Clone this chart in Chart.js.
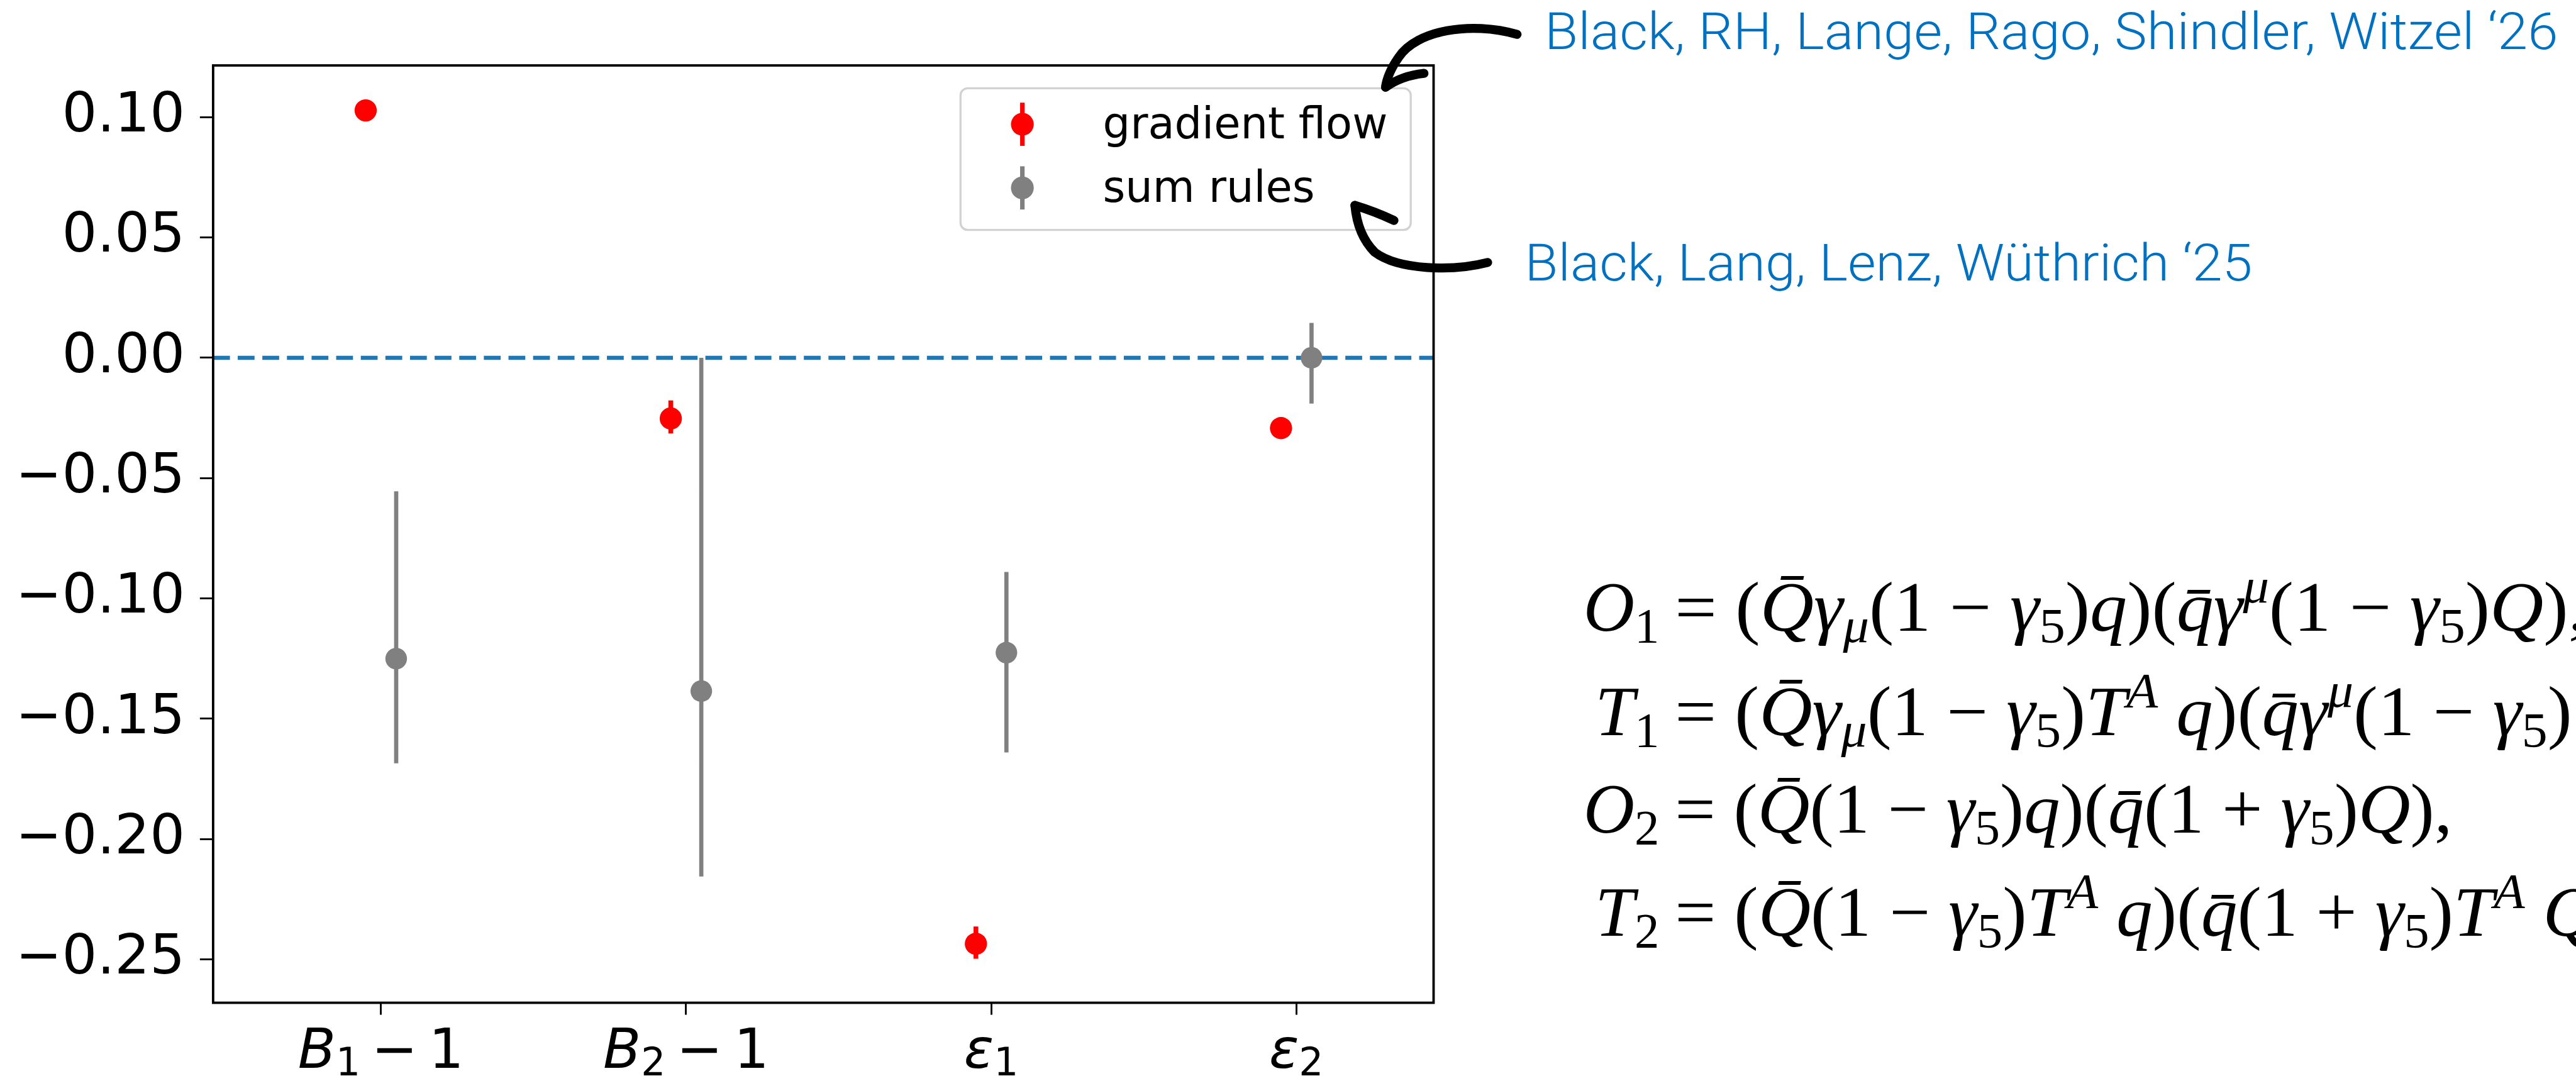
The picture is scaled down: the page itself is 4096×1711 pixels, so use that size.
<!DOCTYPE html>
<html>
<head>
<meta charset="utf-8">
<title>B parameters</title>
<script src="https://cdn.jsdelivr.net/npm/chart.js@4.4.1/dist/chart.umd.min.js"></script>
<style>
  html, body { margin: 0; padding: 0; background: #fff; overflow: hidden; }
  #wrap { position: relative; width: 4096px; height: 1711px; }
  #chart { position: absolute; left: 0; top: 0; }
  #notes { position: absolute; left: 0; top: 0; }
</style>
</head>
<body>
<div id="wrap">
  <canvas id="chart" width="4096" height="1711"></canvas>
  <svg id="notes" xmlns="http://www.w3.org/2000/svg" width="4096" height="1711" viewBox="0 0 4291 1792">
    <g fill="none" stroke="#000" stroke-width="15" stroke-linecap="round" stroke-linejoin="round">
      <path d="M2527,57 C2450,35 2360,50 2330,95 C2316,115 2310,130 2308,145"/>
      <path d="M2308,145 Q2335,126 2372,122"/>
      <path d="M2478,437 C2420,452 2330,450 2290,420 C2270,400 2260,375 2257,342"/>
      <path d="M2257,342 Q2290,352 2322,367"/>
    </g>
    <g id="refs" fill="#0070c0" font-family="Roboto, 'Liberation Sans', sans-serif" font-weight="300" font-size="86"></g>
    <g id="eqs" fill="#000" font-family="'Liberation Serif', 'DejaVu Serif', serif" font-size="118"></g>
  </svg>
</div>
<script>
// everything is laid out in reference pixels and shrunk by S
const S = 4096 / 4291;

const categories = ['B_1 - 1', 'B_2 - 1', 'ε_1', 'ε_2'];
const seriesNames = ['gradient flow', 'sum rules'];
const gradFlow = [0.1028, -0.0252, -0.2435, -0.0292];
const gradFlowUp = [0.002, 0.0075, 0.0072, 0.002];
const gradFlowDown = [0.002, 0.0062, 0.0062, 0.002];
const sumRules = [-0.125, -0.1385, -0.1225, 0.0];
const sumRulesUp = [0.0695, 0.1385, 0.0335, 0.0145];
const sumRulesDown = [0.0435, 0.077, 0.0415, 0.019];
const yTicks = [0.10, 0.05, 0.00, -0.05, -0.10, -0.15, -0.20, -0.25];

const refTexts = ['Black, RH, Lange, Rago, Shindler, Witzel ‘26', 'Black, Lang, Lenz, Wüthrich ‘25'];
const eqLeft = ['O_1', 'T_1', 'O_2', 'T_2'];
const eqRight = [
    '= (Q̄γ_μ(1 − γ_5)q)(q̄γ^μ(1 − γ_5)Q),',
    '= (Q̄γ_μ(1 − γ_5)T^A q)(q̄γ^μ(1 − γ_5)T^A Q),',
    '= (Q̄(1 − γ_5)q)(q̄(1 + γ_5)Q),',
    '= (Q̄(1 − γ_5)T^A q)(q̄(1 + γ_5)T^A Q),'
];

const RED = '#ff0000';
const GREY = '#808080';
const BLUE = '#1f77b4';
const dx = 0.05;

function errSegments(values, up, down, shift) {
    const pts = [];
    values.forEach((v, i) => {
        pts.push({x: i + shift, y: v - down[i]});
        pts.push({x: i + shift, y: v + up[i]});
        pts.push({x: i + shift, y: null});
    });
    return pts;
}

function points(values, shift) {
    return values.map((v, i) => ({x: i + shift, y: v}));
}

function fmt(v) {
    const s = Math.abs(v).toFixed(2);
    return v < -1e-9 ? '\u2212' + s : s;
}

// box round the plot, drawn over the data like matplotlib spines
const frame = {
    id: 'frame',
    afterDatasetsDraw(chart) {
        const {ctx, chartArea: a} = chart;
        ctx.save();
        ctx.strokeStyle = '#000';
        ctx.lineWidth = 4 * S;
        ctx.strokeRect(a.left, a.top, a.right - a.left, a.bottom - a.top);
        ctx.restore();
    }
};

// x labels: italic symbol, small subscript, then the rest upright
const mathLabels = {
    id: 'mathLabels',
    afterDraw(chart) {
        const ctx = chart.ctx;
        const xs = chart.scales.x;
        const fs = 92 * S;
        const base = chart.chartArea.bottom + 108 * S;
        ctx.save();
        ctx.fillStyle = '#000';
        ctx.textBaseline = 'alphabetic';
        ctx.textAlign = 'left';
        categories.forEach((c, i) => {
            const m = c.match(/^(.)_(.)(.*)$/);
            const segs = [
                {t: m[1], f: `italic ${fs}px "DejaVu Sans"`, dy: 0},
                {t: m[2], f: `${fs * 0.7}px "DejaVu Sans"`, dy: 13 * S},
                {t: m[3].replace(' - ', '\u2009\u2212\u2009'), f: `${fs}px "DejaVu Sans"`, dy: 0}
            ];
            let w = 0;
            segs.forEach(s => { ctx.font = s.f; s.w = ctx.measureText(s.t).width; w += s.w; });
            let x = xs.getPixelForValue(i) - w / 2;
            segs.forEach(s => {
                ctx.font = s.f;
                ctx.fillText(s.t, x, base + s.dy);
                x += s.w;
            });
        });
        ctx.restore();
    }
};

// legend box in the upper right corner of the axes
const legendBox = {
    id: 'legendBox',
    afterDraw(chart) {
        const {ctx, chartArea: a} = chart;
        const x0 = a.right - (2388 - 1600) * S;
        const y0 = a.top + (147 - 109) * S;
        const w = 750 * S, h = 236 * S;
        ctx.save();
        ctx.beginPath();
        ctx.roundRect(x0, y0, w, h, 12 * S);
        ctx.fillStyle = 'rgba(255,255,255,0.85)';
        ctx.fill();
        ctx.strokeStyle = '#d2d2d2';
        ctx.lineWidth = 3.5 * S;
        ctx.stroke();
        const items = chart.data.datasets.filter(d => d.legend);
        items.forEach((d, k) => {
            const cy = y0 + (60 + k * 106) * S;
            const mx = x0 + 103 * S;
            ctx.strokeStyle = d.backgroundColor;
            ctx.lineWidth = 7.5 * S;
            ctx.beginPath();
            ctx.moveTo(mx, cy - 36 * S);
            ctx.lineTo(mx, cy + 36 * S);
            ctx.stroke();
            ctx.fillStyle = d.backgroundColor;
            ctx.beginPath();
            ctx.arc(mx, cy, 19 * S, 0, Math.PI * 2);
            ctx.fill();
            ctx.fillStyle = '#000';
            ctx.font = `${72 * S}px "DejaVu Sans"`;
            ctx.textBaseline = 'alphabetic';
            ctx.fillText(d.label, x0 + 237 * S, cy + 23 * S);
        });
        ctx.restore();
    }
};

const chart = new Chart(document.getElementById('chart'), {
    type: 'scatter',
    data: {
        datasets: [
            {
                type: 'line',
                data: [{x: -0.55, y: 0}, {x: 3.45, y: 0}],
                borderColor: BLUE,
                borderWidth: 7 * S,
                borderDash: [28 * S, 13 * S],
                pointRadius: 0,
                order: 10
            },
            {
                type: 'line',
                data: errSegments(gradFlow, gradFlowUp, gradFlowDown, -dx),
                borderColor: RED,
                borderWidth: 8 * S,
                pointRadius: 0,
                spanGaps: false,
                order: 6
            },
            {
                label: seriesNames[0],
                legend: true,
                data: points(gradFlow, -dx),
                backgroundColor: RED,
                borderWidth: 0,
                pointRadius: 18.5 * S,
                order: 5
            },
            {
                type: 'line',
                data: errSegments(sumRules, sumRulesUp, sumRulesDown, dx),
                borderColor: GREY,
                borderWidth: 7 * S,
                pointRadius: 0,
                spanGaps: false,
                order: 4
            },
            {
                label: seriesNames[1],
                legend: true,
                data: points(sumRules, dx),
                backgroundColor: GREY,
                borderWidth: 0,
                pointRadius: 18 * S,
                order: 3
            }
        ]
    },
    options: {
        responsive: false,
        animation: false,
        devicePixelRatio: 1,
        events: [],
        layout: {padding: {left: 0, top: 109 * S, right: (4291 - 2388) * S, bottom: 0}},
        plugins: {legend: {display: false}, tooltip: {enabled: false}},
        scales: {
            x: {
                type: 'linear',
                min: -0.55,
                max: 3.45,
                afterBuildTicks: s => { s.ticks = categories.map((c, i) => ({value: i})); },
                ticks: {display: false},
                grid: {drawOnChartArea: false, tickLength: 20 * S, tickWidth: 3 * S, tickColor: '#000'},
                border: {display: false},
                afterFit: s => { s.height = (1792 - 1670) * S; }
            },
            y: {
                min: -0.268,
                max: 0.1215,
                afterBuildTicks: s => { s.ticks = yTicks.map(v => ({value: v})); },
                ticks: {
                    callback: v => fmt(v),
                    color: '#000',
                    font: {family: 'DejaVu Sans', size: 92 * S},
                    padding: 25 * S
                },
                grid: {drawOnChartArea: false, tickLength: 22 * S, tickWidth: 3 * S, tickColor: '#000'},
                border: {display: false},
                afterFit: s => { s.width = 355 * S; }
            }
        }
    },
    plugins: [frame, mathLabels, legendBox]
});

// --- notes to the right of the plot (svg, reference pixel units) ---
const NS = 'http://www.w3.org/2000/svg';
const refs = document.getElementById('refs');
const refPos = [{x: 2573, y: 81, len: 1688}, {x: 2540, y: 467, len: 1212}];
refTexts.forEach((t, i) => {
    const el = document.createElementNS(NS, 'text');
    el.setAttribute('x', refPos[i].x);
    el.setAttribute('y', refPos[i].y);
    el.setAttribute('textLength', refPos[i].len);
    el.setAttribute('lengthAdjust', 'spacingAndGlyphs');
    el.textContent = t;
    refs.appendChild(el);
});

// split a tex-ish string into runs: _x subscript, ^x superscript, letters italic
function runs(src) {
    const out = [];
    let i = 0;
    while (i < src.length) {
        let ch = src[i], mode = 'n';
        if (ch === '_' || ch === '^') { mode = ch === '_' ? 'sub' : 'sup'; i++; ch = src[i]; }
        let t = ch;
        i++;
        while (src[i] === '\u0304') { t += src[i]; i++; }
        const it = /[A-Za-zα-ω]/.test(ch);
        const last = out[out.length - 1];
        if (last && last.mode === mode && last.it === it && mode === 'n') last.t += t;
        else out.push({t, mode, it});
    }
    return out;
}

function fillEq(el, src, fs) {
    let cur = 0;
    runs(src).forEach(r => {
        const ts = document.createElementNS(NS, 'tspan');
        const target = r.mode === 'sub' ? 0.16 * fs : r.mode === 'sup' ? -0.4 * fs : 0;
        ts.setAttribute('dy', target - cur);
        cur = target;
        if (r.mode !== 'n') ts.setAttribute('font-size', fs * 0.7);
        if (r.it) ts.setAttribute('font-style', 'italic');
        ts.setAttribute('xml:space', 'preserve');
        ts.textContent = r.t;
        el.appendChild(ts);
    });
}

const eqs = document.getElementById('eqs');
const eqBase = [1051, 1224, 1387, 1559];
const eqWidth = [1519, 1805, 1295, 1604];
const eqFs = 118;
eqLeft.forEach((l, i) => {
    const lt = document.createElementNS(NS, 'text');
    lt.setAttribute('x', 2764);
    lt.setAttribute('y', eqBase[i]);
    lt.setAttribute('text-anchor', 'end');
    fillEq(lt, l, eqFs);
    eqs.appendChild(lt);
    const rt = document.createElementNS(NS, 'text');
    rt.setAttribute('x', 2790);
    rt.setAttribute('y', eqBase[i]);
    rt.setAttribute('xml:space', 'preserve');
    rt.setAttribute('textLength', eqWidth[i]);
    rt.setAttribute('lengthAdjust', 'spacingAndGlyphs');
    fillEq(rt, eqRight[i], eqFs);
    eqs.appendChild(rt);
});
</script>
</body>
</html>
